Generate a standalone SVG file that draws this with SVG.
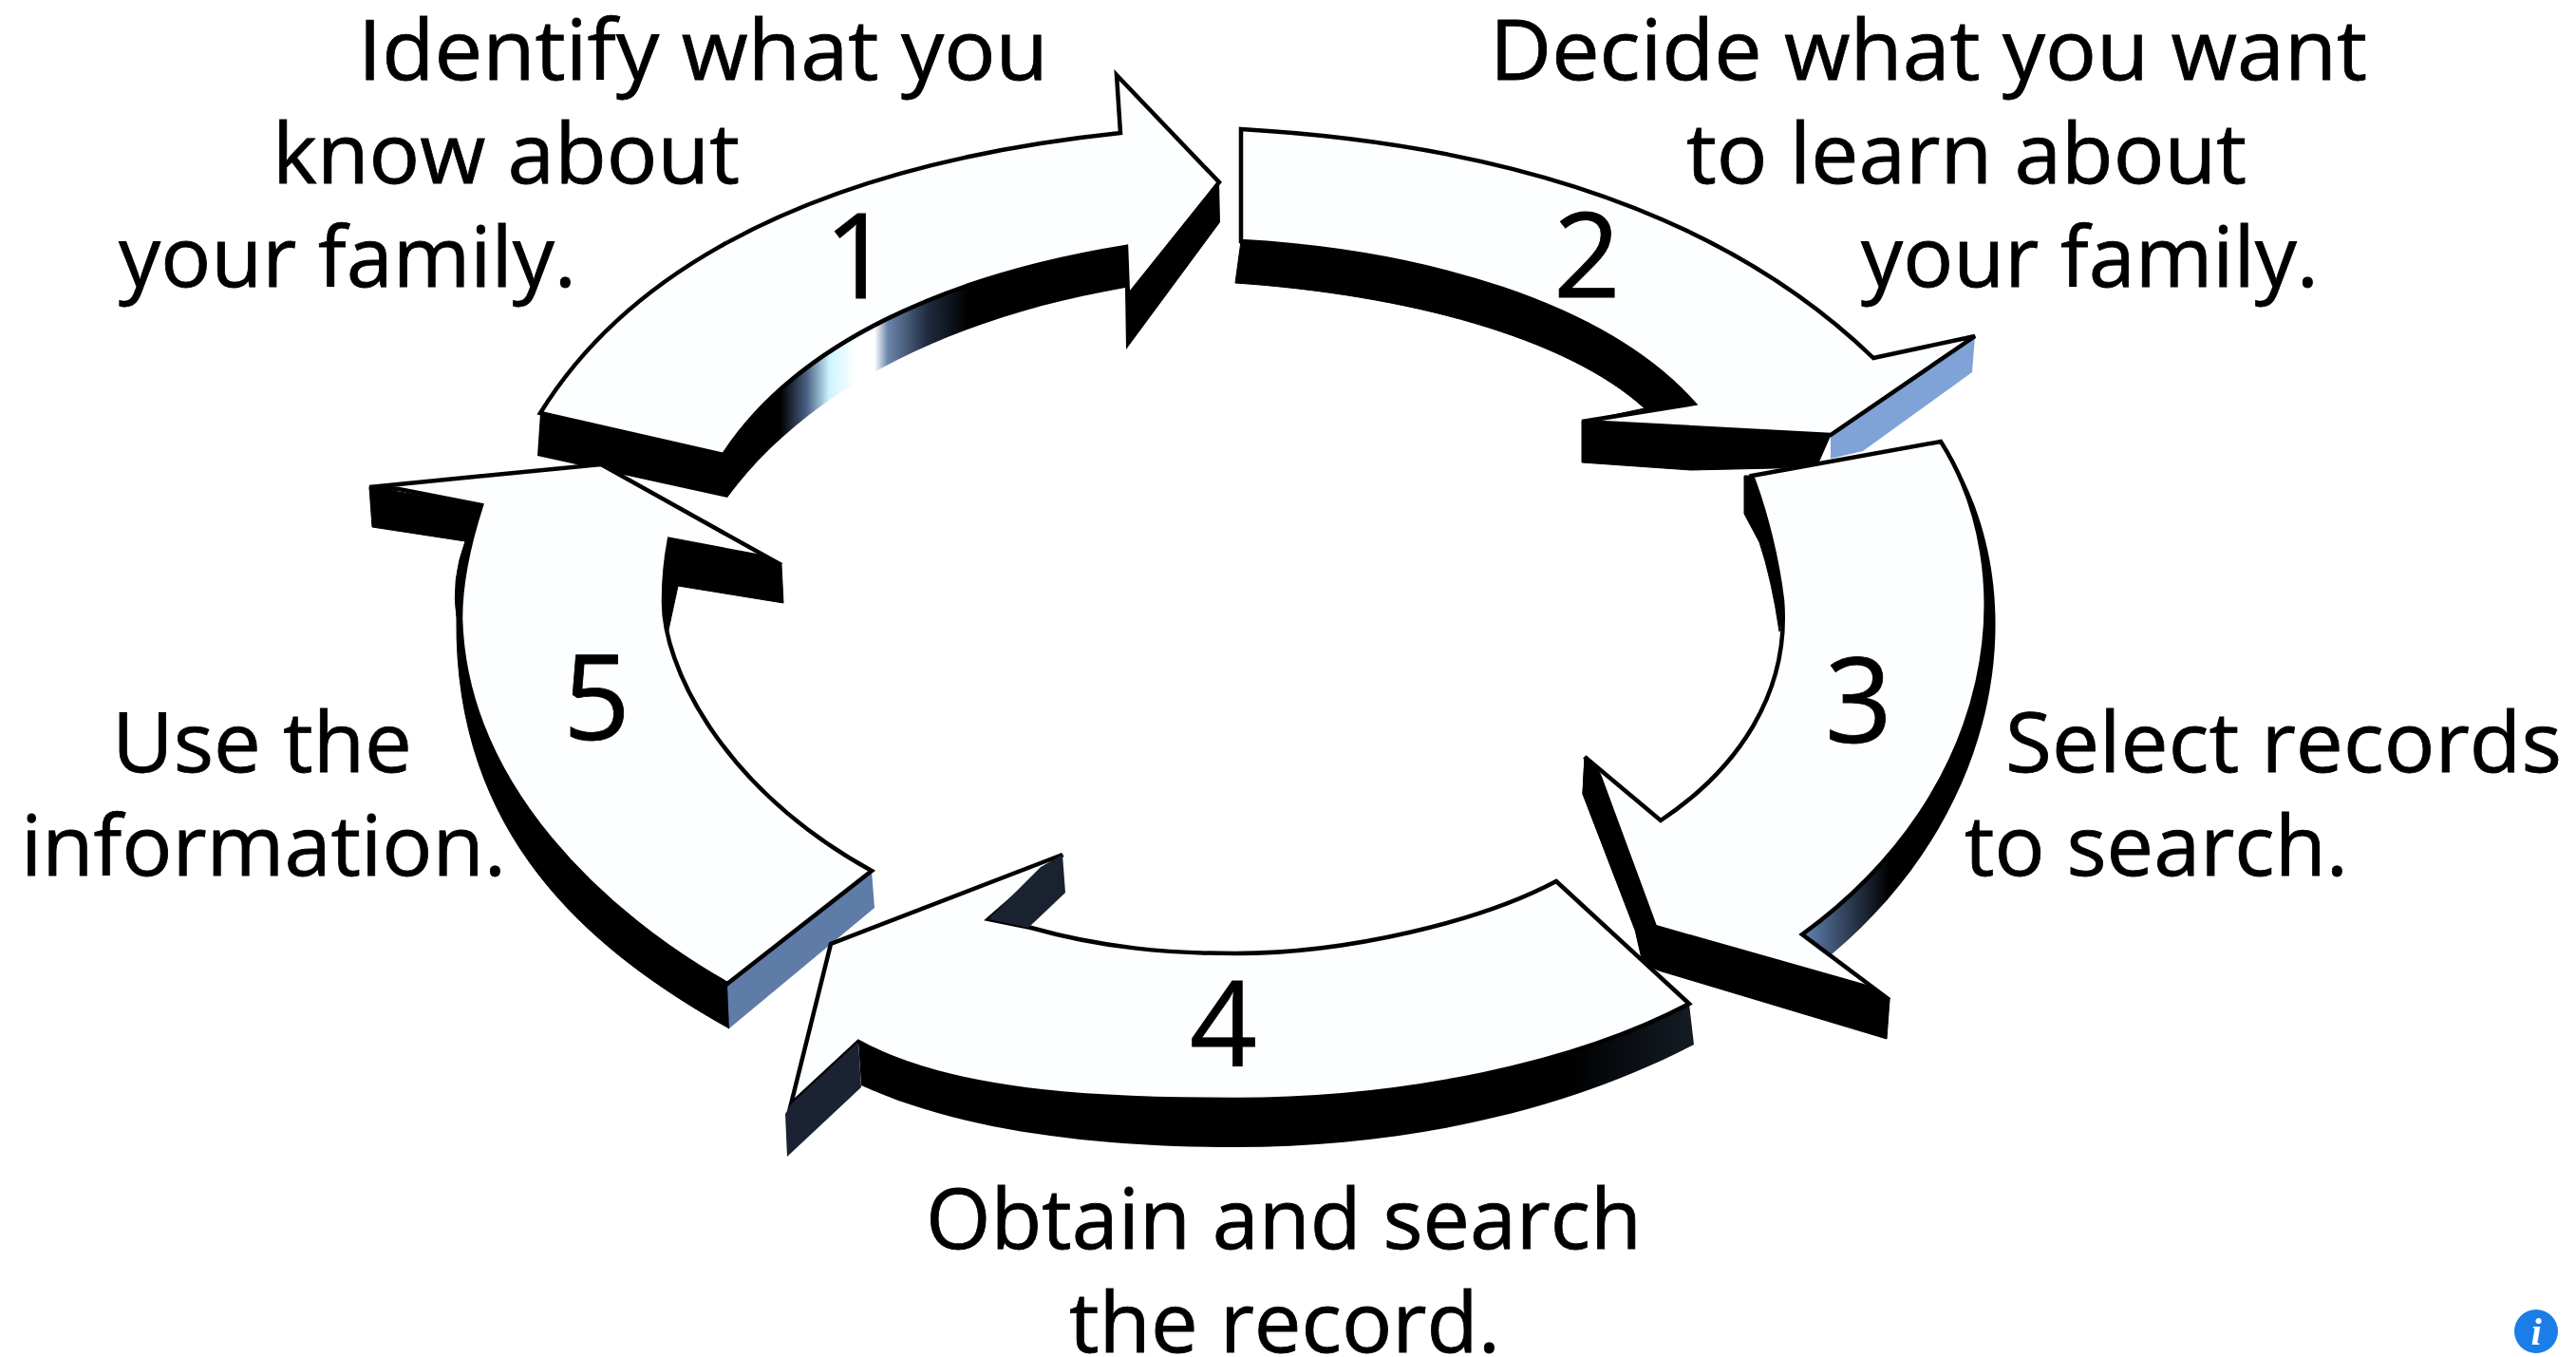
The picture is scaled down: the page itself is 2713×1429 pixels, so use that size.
<svg xmlns="http://www.w3.org/2000/svg" width="2713" height="1429" viewBox="0 0 2713 1429">
<style>
.top{fill:#fdfeff;stroke:#000;stroke-width:4.5;stroke-linejoin:miter}
.blk{fill:#000;stroke:#000;stroke-width:1}
.t{font-family:"Open Sans","Liberation Sans",sans-serif;font-size:88px;fill:#000;stroke:#000;stroke-width:.8}
.n{font-family:"Open Sans","Liberation Sans",sans-serif;font-size:124px;fill:#000;stroke:#000;stroke-width:.8}
</style>
<defs>
<linearGradient id="g1" gradientUnits="userSpaceOnUse" x1="822" y1="0" x2="1020" y2="0">
<stop offset="0" stop-color="#000"/><stop offset=".14" stop-color="#4a6285"/><stop offset=".26" stop-color="#cdf4ff"/><stop offset=".4" stop-color="#fff"/><stop offset=".5" stop-color="#fff"/><stop offset=".57" stop-color="#6d87ad"/><stop offset=".78" stop-color="#202c40"/><stop offset="1" stop-color="#000"/>
</linearGradient>
<linearGradient id="g3" gradientUnits="userSpaceOnUse" x1="1905" y1="0" x2="1990" y2="0">
<stop offset="0" stop-color="#5b7aa8"/><stop offset="1" stop-color="#000"/>
</linearGradient>
<linearGradient id="g4" gradientUnits="userSpaceOnUse" x1="1650" y1="0" x2="1784" y2="0">
<stop offset="0" stop-color="#000"/><stop offset="1" stop-color="#151c25"/>
</linearGradient>
</defs>
<rect width="2713" height="1429" fill="#fff"/>

<g id="arrow-1">
<path d="M569,435L762,479C840,360 1000,290 1186,260L1188,312L1284,192L1285,234L1186,368L1185,303C1000,335 850,410 766,524L566,480Z" fill="url(#g1)"/>
<path class="top" d="M569,435C640,320 800,180 1180,140L1176,79L1284,192L1188,312L1186,260C1000,290 840,360 762,479Z"/>
<text class="n" x="868" y="314">1</text>
</g>

<g id="arrow-5">
<path class="blk" d="M389,513L507,532L490,570L392,555Z"/>
<path class="blk" d="M507,532L490,570Q475,610 481,651C478,880 620,1000 768,1083L766,1036Z"/>
<path class="blk" d="M705,568L795,585L823,595L825,635L714,617L703,668L697,631Z"/>
<path d="M766,1036L918,917L921,956L768,1083Z" fill="#5f7ca8"/>
<path class="top" d="M389,513L633,489L823,595L795,585L705,568Q699,600 699,631C697,700 760,830 918,917L766,1036C640,965 490,830 485,651Q485,600 507,532L420,515Z"/>
<text class="n" x="593" y="779">5</text>
</g>

<g id="arrow-2">
<path class="blk" d="M1307,254L1301,298C1480,310 1650,355 1732,430L1666,444L1666,487L1781,495L1913,492L1928,458L1784,425C1690,320 1500,265 1307,254Z"/>
<path d="M1928,458L2080,354L2077,392L1962,475L1928,483Z" fill="#7fa3d6"/>
<path class="top" d="M1307,136C1550,150 1800,210 1973,377L2080,354L1928,458L1666,444L1784,425C1690,320 1500,265 1307,254Z"/>
<text class="n" x="1636" y="313">2</text>
</g>

<g id="arrow-3">
<path class="blk" d="M1845,501L1837,501L1837,541L1853,571Q1866,610 1874,665L1880,632C1872,590 1860,540 1845,501Z"/>
<path d="M2044,465C2140,600 2125,840 1929,1005L1898,984Z" fill="url(#g3)"/>
<path class="blk" d="M1743,976L1975,1040L1990,1053L1987,1094L1747,1022L1730,1014L1722,979L1667,836L1669,797L1684,816Z"/>
<path class="top" d="M1845,501L2044,465C2130,600 2110,830 1898,984L1990,1053L1962,1038L1743,976L1684,816L1669,797L1749,864C1830,810 1885,730 1877,632C1872,590 1860,540 1845,501Z"/>
<path class="blk" d="M1669,797L1684,816L1743,976L1722,979L1667,836Z"/>
<text class="n" x="1922" y="782">3</text>
</g>

<g id="arrow-4">
<path d="M1779,1057L1784,1100C1650,1170 1480,1208 1301,1208C1150,1208 1010,1190 907,1143L904,1097L1301,1100Z" fill="url(#g4)"/>
<path class="top" d="M1639,928L1779,1057C1660,1120 1480,1158 1301,1158C1150,1158 1000,1150 904,1097L833,1163L875,994L1119,900L1041,968L1086,977C1160,998 1230,1004 1301,1004C1420,1004 1560,970 1639,928Z"/>
<path d="M1119,900L1122,940L1083,977L1041,968L1096,913Z" fill="#1a2230"/>
<path d="M904,1097L907,1145L829,1218L827,1173L833,1163Z" fill="#1b2333"/>
<text class="n" x="1253" y="1123">4</text>
</g>

<g id="labels">
<text class="t" x="377" y="84" textLength="727" lengthAdjust="spacingAndGlyphs">Identify what you</text>
<text class="t" x="287" y="193" textLength="492" lengthAdjust="spacingAndGlyphs">know about</text>
<text class="t" x="125" y="302" textLength="482" lengthAdjust="spacingAndGlyphs">your family.</text>
<text class="t" x="1569" y="84" textLength="924" lengthAdjust="spacingAndGlyphs">Decide what you want</text>
<text class="t" x="1776" y="193" textLength="590" lengthAdjust="spacingAndGlyphs">to learn about</text>
<text class="t" x="1960" y="302" textLength="482" lengthAdjust="spacingAndGlyphs">your family.</text>
<text class="t" x="2112" y="813" textLength="586" lengthAdjust="spacingAndGlyphs">Select records</text>
<text class="t" x="2069" y="922" textLength="404" lengthAdjust="spacingAndGlyphs">to search.</text>
<text class="t" x="118" y="813" textLength="316" lengthAdjust="spacingAndGlyphs">Use the</text>
<text class="t" x="22" y="922" textLength="511" lengthAdjust="spacingAndGlyphs">information.</text>
<text class="t" x="975" y="1315" textLength="754" lengthAdjust="spacingAndGlyphs">Obtain and search</text>
<text class="t" x="1126" y="1424" textLength="454" lengthAdjust="spacingAndGlyphs">the record.</text>
</g>

<g id="info-icon">
<circle cx="2671" cy="1402" r="23" fill="#1a7de8"/>
<text x="2671" y="1416" text-anchor="middle" font-family="'Liberation Serif',serif" font-style="italic" font-weight="700" font-size="40" fill="#fff">i</text>
</g>
</svg>
